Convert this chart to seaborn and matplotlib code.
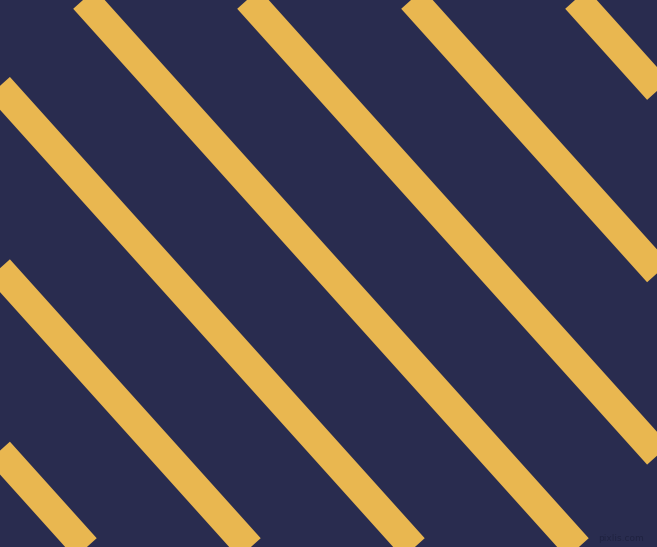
import numpy as np
import pandas as pd
import matplotlib
matplotlib.use("Agg")
import matplotlib.pyplot as plt
import seaborn as sns

# Pattern data (pixel coordinates of the canvas, y downward)
stripe_ids = ["s1", "s2", "s3", "s4", "s5", "s6", "s7"]
top_x = [-407, -243, -79, 85, 249, 413, 577]   # stripe centre where it meets the top edge
slope = 1.112                                   # rows per column
canvas_w, canvas_h = 657, 547

bg_color = "#292C4F"
stripe_color = "#E9B750"

rows = []
for sid, x0 in zip(stripe_ids, top_x):
    for y in (-40, canvas_h + 40):
        rows.append({"stripe": sid, "x": x0 + y / slope, "y": y})
df = pd.DataFrame(rows)

sns.set_theme(style="white")
fig = plt.figure(figsize=(6.57, 5.47), dpi=100)
ax = fig.add_axes([0, 0, 1, 1])
ax.set_facecolor(bg_color)
fig.patch.set_facecolor(bg_color)

sns.lineplot(data=df, x="x", y="y", units="stripe", estimator=None, sort=False,
             color=stripe_color, linewidth=21.1, solid_capstyle="butt",
             legend=False, ax=ax)

ax.set_xlim(0, canvas_w)
ax.set_ylim(canvas_h, 0)
ax.set_axis_off()

ax.text(644, 543, "pixlis.com", color="#1F2240", fontsize=6.5,
        ha="right", va="bottom", family=["DejaVu Sans"])

fig.savefig("out.png", dpi=100, facecolor=bg_color)
